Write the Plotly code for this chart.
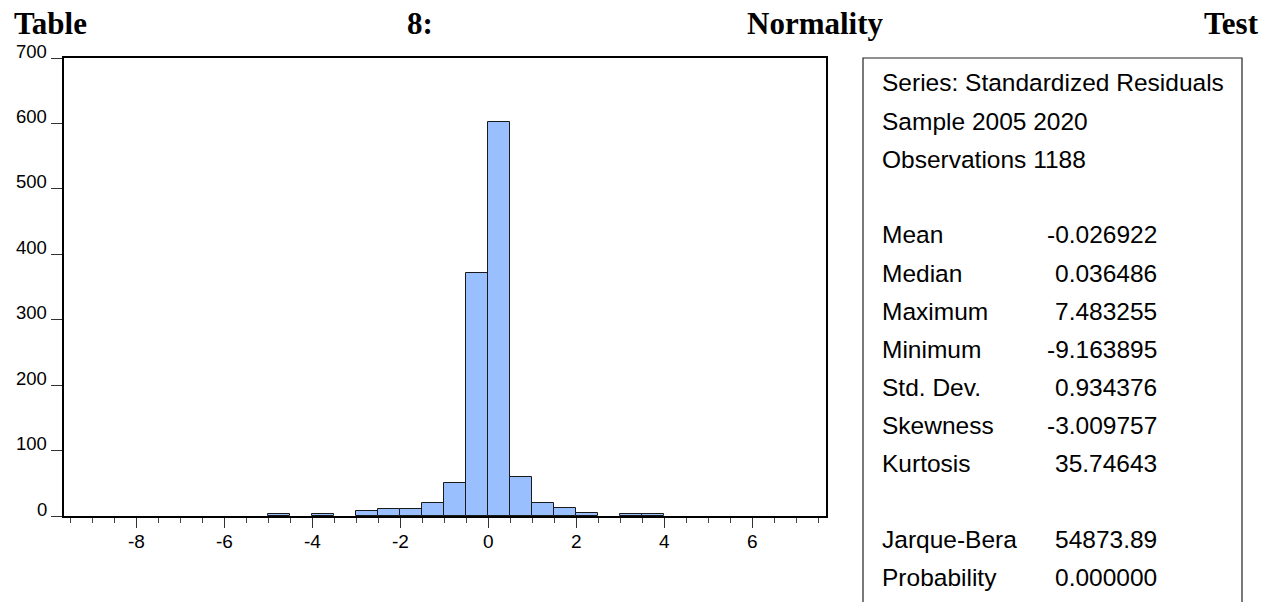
import plotly.graph_objects as go

# ---- data ----
bin_left = [-5.0, -4.0, -3.0, -2.5, -2.0, -1.5, -1.0, -0.5, 0.0, 0.5, 1.0, 1.5, 2.0, 3.0, 3.5]
counts   = [3,    3,    7,    10,   11,   20,   50,   372,  602,  60,   20,   12,   4,    3,    3]
bin_width = 0.5

x_ticks = [-8, -6, -4, -2, 0, 2, 4, 6]
y_ticks = [0, 100, 200, 300, 400, 500, 600, 700]

title_words = ["Table", "8:", "Normality", "Test"]
stat_header = ["Series: Standardized Residuals", "Sample 2005 2020", "Observations 1188"]
stat_names = ["Mean", "Median", "Maximum", "Minimum", "Std. Dev.", "Skewness", "Kurtosis"]
stat_values = ["-0.026922", "0.036486", "7.483255", "-9.163895", "0.934376", "-3.009757", "35.74643"]
test_names = ["Jarque-Bera", "Probability"]
test_values = ["54873.89", "0.000000"]

# ---- layout geometry (pixels) ----
W, H = 1270, 602
PL, PR, PT, PB = 64, 826, 58, 516
pw, ph = PR - PL, PB - PT

def px(x):
    return (x - PL) / pw

def py(y):
    return (PB - y) / ph

centers = [b + bin_width / 2 for b in bin_left]

fig = go.Figure()
fig.add_trace(go.Bar(
    x=centers, y=counts, width=bin_width,
    marker=dict(color="#99BFFF", line=dict(color="#1a1a1a", width=1)),
    hoverinfo="x+y", showlegend=False,
))

annotations = []
# y tick labels (sit slightly above their ticks, as in the original)
for v in y_ticks:
    annotations.append(dict(
        x=0, xref="paper", y=v, yref="y", text=str(v), showarrow=False,
        xanchor="right", yanchor="middle", xshift=-15, yshift=7,
        font=dict(family="Liberation Sans, Arial", size=18.5, color="#000"),
    ))

# title words spread across the width
title_font = dict(family="Liberation Serif, Times New Roman", size=31, color="#000")
title_pos = [(12, "left"), (405, "left"), (745, "left"), (1261, "right")]
for w, (xp, anc) in zip(title_words, title_pos):
    annotations.append(dict(
        x=px(xp), xref="paper", y=py(24), yref="paper", text="<b>" + w + "</b>",
        showarrow=False, xanchor=anc, yanchor="middle", font=title_font,
    ))

# statistics box text
sfont = dict(family="Liberation Sans, Arial", size=24.5, color="#000")
TX, VX = 880, 1159
y0, dy = 83, 38
row = 0
for t in stat_header:
    annotations.append(dict(x=px(TX), xref="paper", y=py(y0 + row * dy), yref="paper",
                            text=t, showarrow=False, xanchor="left", yanchor="middle", font=sfont))
    row += 1
row += 1
for n, v in zip(stat_names, stat_values):
    annotations.append(dict(x=px(TX), xref="paper", y=py(y0 + row * dy), yref="paper",
                            text=n, showarrow=False, xanchor="left", yanchor="middle", font=sfont))
    annotations.append(dict(x=px(VX), xref="paper", y=py(y0 + row * dy), yref="paper",
                            text=v, showarrow=False, xanchor="right", yanchor="middle", font=sfont))
    row += 1
row += 1
for n, v in zip(test_names, test_values):
    annotations.append(dict(x=px(TX), xref="paper", y=py(y0 + row * dy), yref="paper",
                            text=n, showarrow=False, xanchor="left", yanchor="middle", font=sfont))
    annotations.append(dict(x=px(VX), xref="paper", y=py(y0 + row * dy), yref="paper",
                            text=v, showarrow=False, xanchor="right", yanchor="middle", font=sfont))
    row += 1

shapes = [dict(type="rect", xref="paper", yref="paper",
               x0=px(863), x1=px(1242), y0=py(620), y1=py(58),
               line=dict(color="#222", width=1.2), fillcolor="rgba(0,0,0,0)")]

fig.update_layout(
    width=W, height=H,
    margin=dict(l=PL, r=W - PR, t=PT, b=H - PB, autoexpand=False),
    paper_bgcolor="white", plot_bgcolor="white",
    bargap=0,
    annotations=annotations,
    shapes=shapes,
    xaxis=dict(
        range=[-9.645, 7.675], tickmode="array", tickvals=x_ticks,
        ticktext=[str(t) for t in x_ticks],
        ticks="outside", ticklen=10, tickwidth=1, tickcolor="#333",
        showline=True, linecolor="#000", linewidth=1.5, mirror=True,
        showgrid=False, zeroline=False, ticklabelstandoff=-3,
        tickfont=dict(family="Liberation Sans, Arial", size=19, color="#000"),
        minor=dict(tick0=-9.5, dtick=0.5, ticks="outside", ticklen=5, tickcolor="#444", tickwidth=1, showgrid=False),
    ),
    yaxis=dict(
        range=[0, 700], tickmode="array", tickvals=y_ticks, showticklabels=False,
        ticks="outside", ticklen=11, tickwidth=1, tickcolor="#333",
        showline=True, linecolor="#000", linewidth=1.5, mirror=True,
        showgrid=False, zeroline=False,
    ),
)

fig.write_html("out.html",
               config={"displayModeBar": False},
               post_script="document.body.style.margin='0';document.body.style.overflow='hidden';")
